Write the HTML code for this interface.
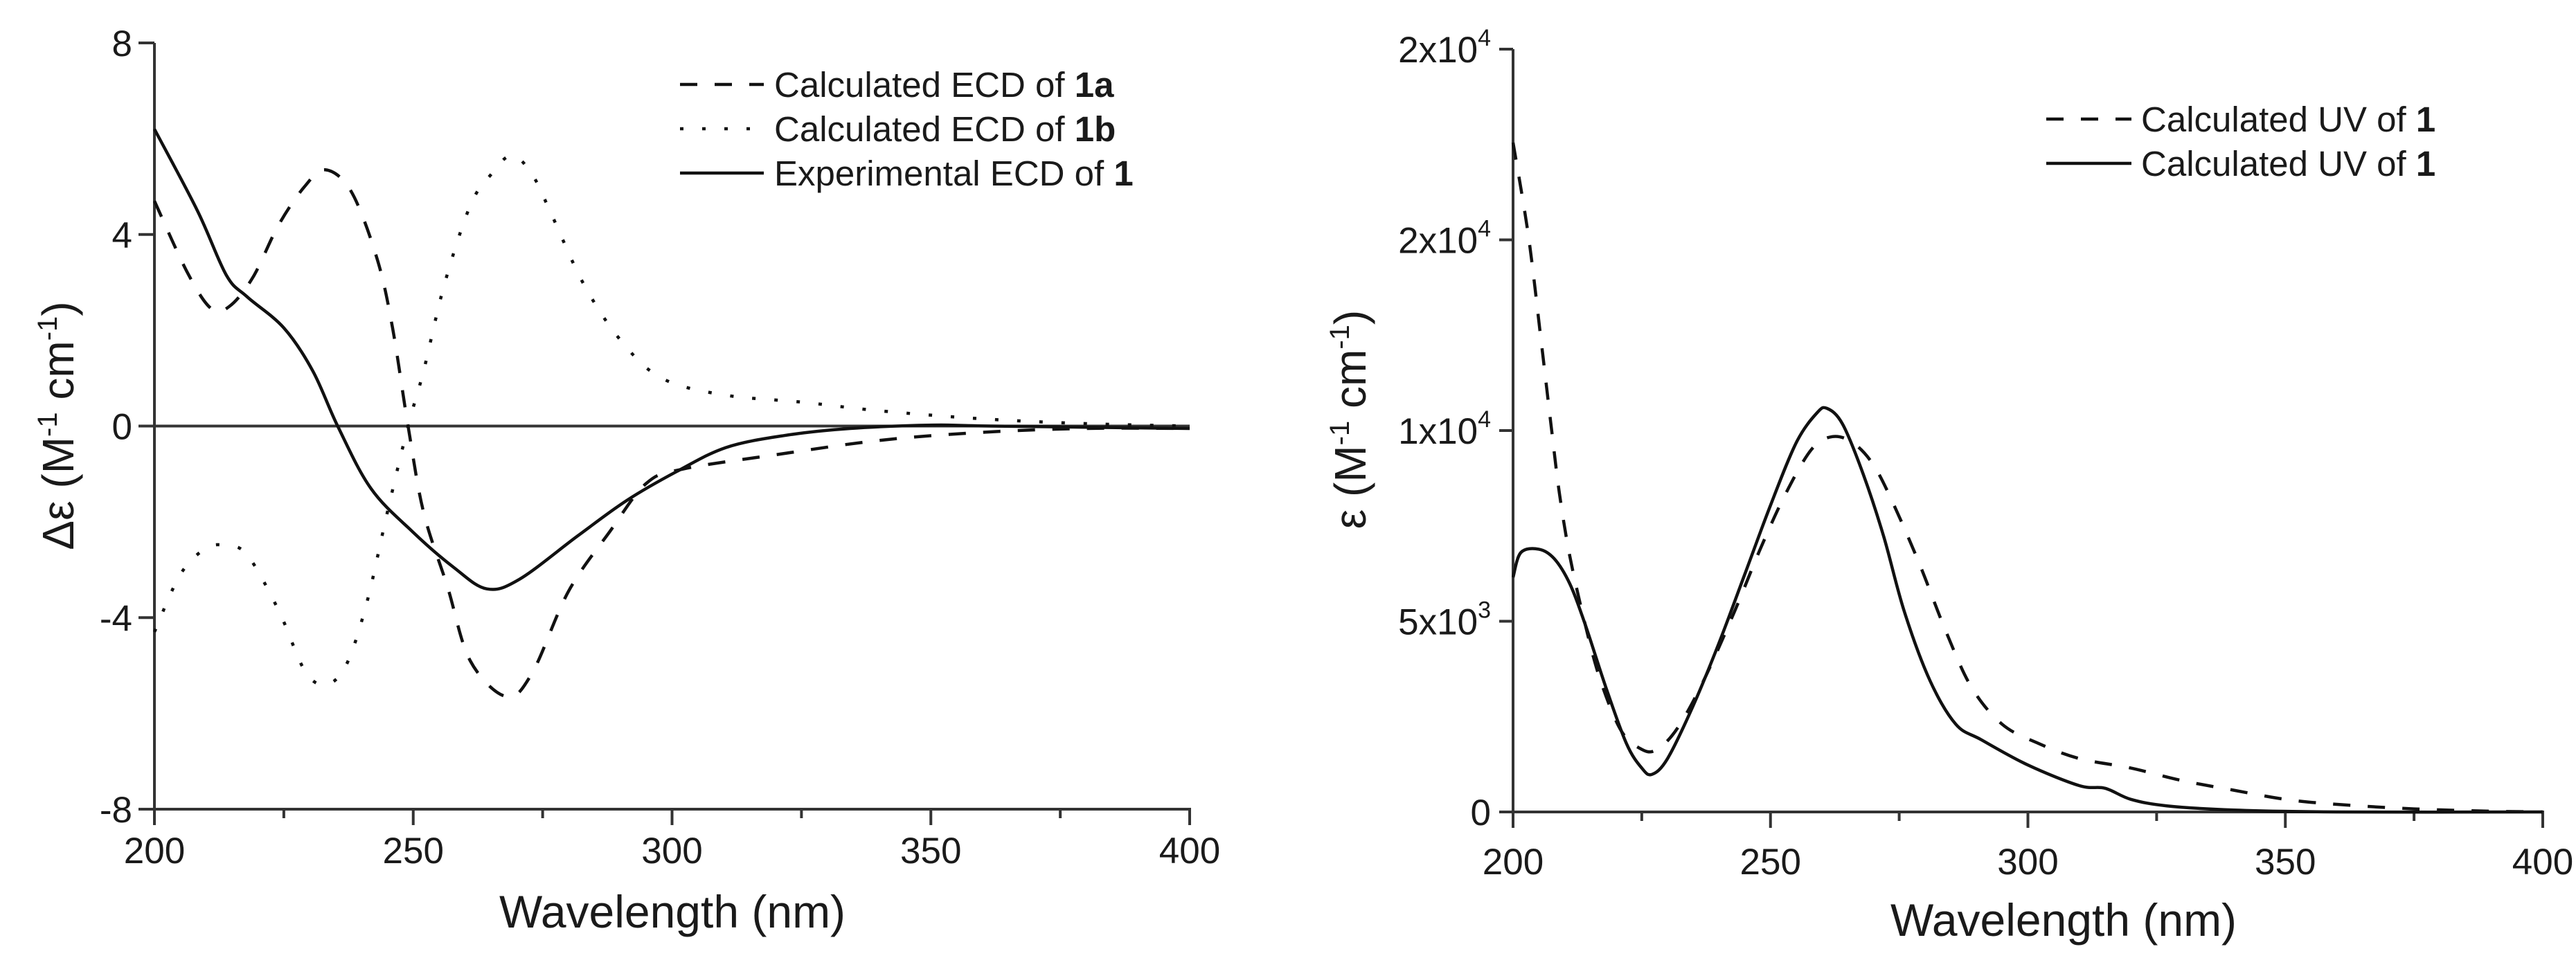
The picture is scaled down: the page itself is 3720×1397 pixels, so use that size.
<!DOCTYPE html>
<html><head><meta charset="utf-8"><style>
html,body{margin:0;padding:0;background:#fff}
svg{display:block}
text{font-family:"Liberation Sans",Arial,sans-serif;fill:#1a1a1a}
</style></head><body>
<svg id="chart" width="3720" height="1397" viewBox="0 0 3720 1397" xmlns="http://www.w3.org/2000/svg">
<g id="left"></g>
<g id="right"></g>
</svg>
<script>
// ECD panel data
const ecdWl1a=[200,206.4,211,214.5,219,224,229,233,238,243,246,249,252,256.6,261,268,273,280,288,295,302,320,340,360,380,400];
const ecd1a=[4.7,3.2,2.45,2.5,3.1,4.2,5.0,5.35,4.9,3.5,2.05,0,-1.8,-3.35,-4.9,-5.65,-5.15,-3.45,-2.2,-1.2,-0.9,-0.6,-0.3,-0.13,-0.05,-0.05];
const ecdWl1b=[200,205,210,214,218,224,229,233,237,241,245,249,252,256,261,265,269,273,277,283,290,298,310,325,340,360,380,400];
const ecd1b=[-4.3,-3.1,-2.55,-2.5,-2.7,-3.85,-5.1,-5.4,-5.0,-3.7,-1.8,0,1.15,2.95,4.6,5.25,5.65,5.25,4.35,2.95,1.8,1.0,0.65,0.5,0.32,0.15,0.05,0];
const ecdWlExp=[200,208.3,213.9,217.9,225,230.6,235.4,241.8,249.8,257.8,264.2,270.5,281.7,291.3,300.9,310.4,321.6,334.4,350.3,361.5,400];
const ecdExp=[6.2,4.5,3.15,2.7,2.05,1.15,0,-1.3,-2.2,-2.95,-3.4,-3.2,-2.3,-1.55,-0.95,-0.45,-0.2,-0.05,0.02,0,-0.05];
const ecdYTicks=[8,4,0,-4,-8];
const xTicks=[200,250,300,350,400];
// UV panel data
const uvWlDash=[200,203,205.5,207.5,209,211,214,217,221,225,228,232,237,243,248,253,258,262,266,270,274,279,284,289,295,302,310,320,330,340,350,360,375,390,400];
const uvDash=[17550,15090,12300,10000,8360,6720,4920,3440,2130,1640,1640,2210,3440,5250,6890,8360,9510,9840,9680,9100,8040,6480,4760,3280,2300,1800,1400,1150,820,570,330,200,80,20,0];
const uvWlSolid=[200,201.5,205,208,211,214,218,222,225,227,230,235,240,245,250,255,259,261,264,268,272,276,281,286,291,300,310,315,320,327,340,360,400];
const uvSolid=[6150,6800,6890,6640,5990,4920,3280,1800,1150,985,1400,2790,4430,6230,8040,9680,10460,10580,10170,8860,7220,5250,3440,2300,1890,1230,690,620,330,160,50,0,0];
const uvYTicks=[0,5000,10000,15000,20000];
const uvYLabels=[["0",""],["5x10","3"],["1x10","4"],["2x10","4"],["2x10","4"]];

const NS="http://www.w3.org/2000/svg";
function mk(tag,attrs,parent){const e=document.createElementNS(NS,tag);for(const k in attrs)e.setAttribute(k,attrs[k]);parent.appendChild(e);return e;}
function smooth(pts){let d=`M${pts[0][0].toFixed(1)},${pts[0][1].toFixed(1)}`;
 for(let i=0;i<pts.length-1;i++){const p0=pts[i-1]||pts[i],p1=pts[i],p2=pts[i+1],p3=pts[i+2]||p2;
  const c1=[p1[0]+(p2[0]-p0[0])/6,p1[1]+(p2[1]-p0[1])/6],c2=[p2[0]-(p3[0]-p1[0])/6,p2[1]-(p3[1]-p1[1])/6];
  d+=`C${c1[0].toFixed(1)},${c1[1].toFixed(1)} ${c2[0].toFixed(1)},${c2[1].toFixed(1)} ${p2[0].toFixed(1)},${p2[1].toFixed(1)}`;}
 return d;}

// ---------- Left ECD ----------
const L=document.getElementById('left');
const lx=v=>223+(v-200)*(1718-223)/200;
const ly=v=>615.5-v*(1169-62)/16;
let e;
e=mk('line',{x1:lx(200),y1:ly(0),x2:lx(400),y2:ly(0),stroke:'#333','stroke-width':4},L);


e=mk('line',{x1:lx(200),y1:ly(8),x2:lx(200),y2:ly(-8)+23,stroke:'#333','stroke-width':4},L);


e=mk('line',{x1:lx(200)-23,y1:ly(-8),x2:lx(400)+2,y2:ly(-8),stroke:'#333','stroke-width':4},L);


ecdYTicks.forEach(t=>{
 e=mk('line',{x1:lx(200)-23,y1:ly(t),x2:lx(200),y2:ly(t),stroke:'#333','stroke-width':4},L);
 
 
 e=mk('text',{x:lx(200)-32,y:ly(t)+19,'text-anchor':'end','font-size':53},L);e.textContent=String(t);
 
 
});
for(let v=200;v<=400;v+=25){const major=v%50===0;
 e=mk('line',{x1:lx(v),y1:ly(-8),x2:lx(v),y2:ly(-8)+(major?23:13),stroke:'#333','stroke-width':4},L);
 
 }
xTicks.forEach(t=>{e=mk('text',{x:lx(t),y:1247,'text-anchor':'middle','font-size':53},L);e.textContent=String(t);
 
 });
e=mk('text',{x:971,y:1340,'text-anchor':'middle','font-size':66},L);e.textContent='Wavelength (nm)';


e=mk('text',{x:0,y:0,'text-anchor':'middle','font-size':64,transform:'translate(106,615) rotate(-90)'},L);
e.innerHTML='Δε (M<tspan dy="-24" font-size="40">-1</tspan><tspan dy="24"> cm</tspan><tspan dy="-24" font-size="40">-1</tspan><tspan dy="24">)</tspan>';


function series(g,wl,vals,fx,fy,dash,name){const p=mk('path',{d:smooth(wl.map((w,i)=>[fx(w),fy(vals[i])])),fill:'none',stroke:'#111','stroke-width':4.5,'stroke-dasharray':dash,'stroke-linejoin':'round'},g);
 
 }
series(L,ecdWl1b,ecd1b,lx,ly,'5 27','ecd-1b-line');
series(L,ecdWl1a,ecd1a,lx,ly,'25 25','ecd-1a-line');
series(L,ecdWlExp,ecdExp,lx,ly,'none','ecd-experimental-line');
// legend left
const legL=[['25 25','Calculated ECD of ','1a','legend-ecd-1a'],['5 27','Calculated ECD of ','1b','legend-ecd-1b'],['none','Experimental ECD of ','1','legend-ecd-exp']];
legL.forEach((r,i)=>{const y=122+i*64;
 const g=mk('g',{},L);
 
 
 mk('line',{x1:982,y1:y,x2:1103,y2:y,stroke:'#111','stroke-width':4.5,'stroke-dasharray':r[0]},g);
 const t=mk('text',{x:1118,y:y+18,'font-size':51},g);t.innerHTML=r[1]+'<tspan font-weight="bold">'+r[2]+'</tspan>';});

// ---------- Right UV ----------
const R=document.getElementById('right');
const rx=v=>2185+(v-200)*(3672-2185)/200;
const ry=v=>1173-v*(1173-71)/20000;
e=mk('line',{x1:rx(200),y1:ry(20000),x2:rx(200),y2:ry(0)+23,stroke:'#333','stroke-width':4},R);


e=mk('line',{x1:rx(200)-20,y1:ry(0),x2:rx(400)+2,y2:ry(0),stroke:'#333','stroke-width':4},R);


uvYTicks.forEach((t,i)=>{
 e=mk('line',{x1:rx(200)-20,y1:ry(t),x2:rx(200),y2:ry(t),stroke:'#333','stroke-width':4},R);
 
 
 const lab=uvYLabels[i];
 e=mk('text',{x:rx(200)-32,y:ry(t)+19,'text-anchor':'end','font-size':53},R);
 e.innerHTML=lab[1]?lab[0]+'<tspan dy="-24" font-size="34">'+lab[1]+'</tspan>':lab[0];
 
 
});
for(let v=200;v<=400;v+=25){const major=v%50===0;
 e=mk('line',{x1:rx(v),y1:ry(0),x2:rx(v),y2:ry(0)+(major?23:13),stroke:'#333','stroke-width':4},R);
 
 }
xTicks.forEach(t=>{e=mk('text',{x:rx(t),y:1263,'text-anchor':'middle','font-size':53},R);e.textContent=String(t);
 
 });
e=mk('text',{x:2980,y:1352,'text-anchor':'middle','font-size':66},R);e.textContent='Wavelength (nm)';


e=mk('text',{x:0,y:0,'text-anchor':'middle','font-size':64,transform:'translate(1972,606) rotate(-90)'},R);
e.innerHTML='ε (M<tspan dy="-24" font-size="40">-1</tspan><tspan dy="24"> cm</tspan><tspan dy="-24" font-size="40">-1</tspan><tspan dy="24">)</tspan>';


series(R,uvWlDash,uvDash,rx,ry,'25 25','uv-calculated-dashed-line');
series(R,uvWlSolid,uvSolid,rx,ry,'none','uv-solid-line');
const legR=[['25 25','legend-uv-dashed'],['none','legend-uv-solid']];
legR.forEach((r,i)=>{const y=172+i*64;
 const g=mk('g',{},R);
 
 
 mk('line',{x1:2955,y1:y,x2:3078,y2:y,stroke:'#111','stroke-width':4.5,'stroke-dasharray':r[0]},g);
 const t=mk('text',{x:3092,y:y+18,'font-size':51},g);t.innerHTML='Calculated UV of <tspan font-weight="bold">1</tspan>';});
</script>
</body></html>
